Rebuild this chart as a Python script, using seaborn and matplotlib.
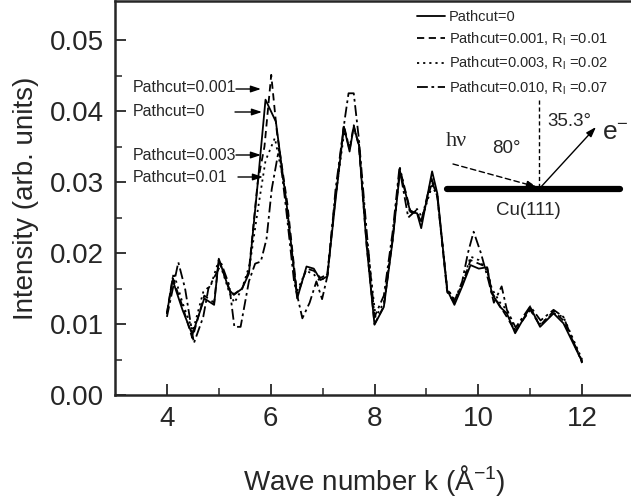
import numpy as np
import pandas as pd
import matplotlib
matplotlib.use("Agg")
import matplotlib.pyplot as plt
import seaborn as sns
from matplotlib.lines import Line2D

# ---- data (intensity in units of 0.01) ----
k_p0 = [4.0, 4.11, 4.3, 4.49, 4.72, 4.91, 5.0, 5.2, 5.29, 5.45, 5.58, 5.75, 5.9, 6.1, 6.32,
        6.51, 6.69, 6.83, 6.96, 7.09, 7.25, 7.41, 7.52, 7.6, 7.7, 7.85, 8.0, 8.18, 8.35, 8.49,
        8.69, 8.82, 8.9, 9.11, 9.21, 9.4, 9.54, 9.69, 9.85, 10.01, 10.17, 10.26, 10.42, 10.55,
        10.71, 11.0, 11.19, 11.45, 11.64, 12.0]
i_p0 = [1.15, 1.62, 1.2, 0.85, 1.36, 1.27, 1.92, 1.48, 1.41, 1.50, 1.71, 2.98, 4.16, 3.85, 2.61,
        1.36, 1.81, 1.78, 1.62, 1.67, 2.75, 3.78, 3.43, 3.78, 3.52, 2.09, 0.99, 1.24, 2.18, 3.15,
        2.58, 2.56, 2.35, 3.15, 2.84, 1.48, 1.27, 1.53, 1.83, 1.78, 1.80, 1.43, 1.24, 1.15,
        0.87, 1.24, 0.96, 1.15, 1.01, 0.47]

k_p001 = [4.0, 4.11, 4.3, 4.49, 4.72, 4.91, 5.0, 5.2, 5.29, 5.45, 5.58, 5.75, 5.88, 6.01, 6.12,
          6.32, 6.51, 6.69, 6.83, 6.96, 7.09, 7.25, 7.41, 7.52, 7.6, 7.7, 7.85, 8.0, 8.18, 8.35,
          8.49, 8.69, 8.82, 8.9, 9.11, 9.21, 9.4, 9.54, 9.69, 9.85, 10.01, 10.17, 10.26, 10.42,
          10.55, 10.71, 11.0, 11.19, 11.45, 11.64, 12.0]
i_p001 = [1.15, 1.65, 1.25, 0.8, 1.4, 1.3, 1.9, 1.5, 1.42, 1.5, 1.75, 3.0, 3.5, 4.51, 3.7,
          2.7, 1.4, 1.78, 1.75, 1.65, 1.7, 2.8, 3.8, 3.45, 3.8, 3.5, 2.1, 1.0, 1.25, 2.2,
          3.18, 2.6, 2.55, 2.45, 3.0, 2.8, 1.45, 1.3, 1.55, 1.9, 1.85, 1.8, 1.45, 1.25,
          1.1, 0.9, 1.2, 0.98, 1.18, 1.05, 0.48]

k_p003 = [4.0, 4.13, 4.3, 4.5, 4.7, 4.85, 5.0, 5.2, 5.3, 5.45, 5.6, 5.75, 5.9, 6.08, 6.25,
          6.5, 6.68, 6.83, 6.96, 7.09, 7.25, 7.42, 7.52, 7.6, 7.7, 7.85, 8.02, 8.18, 8.35, 8.49,
          8.69, 8.82, 8.92, 9.11, 9.21, 9.4, 9.54, 9.69, 9.85, 10.01, 10.17, 10.26, 10.42, 10.55,
          10.71, 11.0, 11.19, 11.45, 11.64, 12.0]
i_p003 = [1.15, 1.72, 1.3, 0.9, 1.45, 1.55, 1.9, 1.45, 1.3, 1.5, 1.85, 2.6, 3.3, 3.62, 3.0,
          1.45, 1.75, 1.7, 1.6, 1.7, 2.8, 3.72, 3.5, 3.75, 3.55, 2.2, 1.1, 1.3, 2.2, 3.2,
          2.55, 2.62, 2.5, 2.95, 2.8, 1.5, 1.35, 1.55, 1.95, 1.9, 1.75, 1.5, 1.3, 1.2,
          0.92, 1.2, 1.0, 1.15, 1.1, 0.5]

k_p010 = [4.0, 4.22, 4.35, 4.52, 4.7, 4.8, 5.05, 5.2, 5.3, 5.42, 5.58, 5.7, 5.81, 5.92, 6.02,
          6.16, 6.3, 6.45, 6.61, 6.75, 6.88, 6.99, 7.1, 7.25, 7.43, 7.5, 7.6, 7.7, 7.85, 8.0,
          8.18, 8.35, 8.48, 8.65, 8.8, 8.9, 9.1, 9.21, 9.4, 9.54, 9.69, 9.8, 9.91, 10.05, 10.2,
          10.3, 10.45, 10.55, 10.72, 11.0, 11.2, 11.45, 11.64, 12.0]
i_p010 = [1.1, 1.87, 1.5, 0.73, 1.1, 1.5, 1.85, 1.55, 0.96, 0.96, 1.6, 1.85, 1.88, 2.2, 2.9,
          3.47, 2.6, 1.6, 1.08, 1.3, 1.6, 1.35, 1.7, 2.9, 3.9, 4.25, 4.25, 3.6, 2.3, 1.1,
          1.4, 2.3, 3.2, 2.5, 2.6, 2.45, 3.05, 2.8, 1.5, 1.32, 1.6, 2.0, 2.3, 2.0, 1.6,
          1.3, 1.53, 1.2, 0.95, 1.25, 1.05, 1.2, 1.1, 0.45]

labels = ["Pathcut=0",
          r"Pathcut=0.001, R$_\mathregular{l}$ =0.01",
          r"Pathcut=0.003, R$_\mathregular{l}$ =0.02",
          r"Pathcut=0.010, R$_\mathregular{l}$ =0.07"]
x_ticks = [4, 6, 8, 10, 12]
y_ticks = [0.00, 0.01, 0.02, 0.03, 0.04, 0.05]
ann_labels = ["Pathcut=0.001", "Pathcut=0", "Pathcut=0.003", "Pathcut=0.01"]

frames = []
for kk, ii, lab in [(k_p0, i_p0, labels[0]), (k_p001, i_p001, labels[1]),
                    (k_p003, i_p003, labels[2]), (k_p010, i_p010, labels[3])]:
    frames.append(pd.DataFrame({"k": kk, "I": np.array(ii) * 0.01, "series": lab}))
df = pd.concat(frames, ignore_index=True)

sns.set_style("ticks")
plt.rcParams["font.family"] = ["Liberation Sans", "DejaVu Sans"]
plt.rcParams["mathtext.fontset"] = "custom"
plt.rcParams["mathtext.rm"] = "Liberation Sans"

W, H = 631, 504
fig = plt.figure(figsize=(W / 100, H / 100), dpi=100)
ax = fig.add_axes([115 / W, 1 - 395 / H, (634 - 115) / W, (395 - 1) / H])

dashes = {labels[0]: "", labels[1]: (4, 2.5), labels[2]: (1.2, 2.2), labels[3]: (6, 2, 1.5, 2)}
sns.lineplot(data=df, x="k", y="I", hue="series", style="series", dashes=dashes,
             palette=["black"] * 4, sort=False, estimator=None, linewidth=1.3, ax=ax,
             legend=False)

ax.set_xlim(3, 13)
ax.set_ylim(0, 0.0555)
ax.set_xticks(x_ticks)
ax.set_xticks([5, 7, 9, 11], minor=True)
ax.set_yticks(y_ticks)
ax.set_yticklabels([f"{v:.2f}" for v in y_ticks])
ax.set_yticks(np.arange(0.005, 0.055, 0.01), minor=True)
ax.tick_params(which="major", direction="in", length=8, width=1.3, labelsize=20, pad=8)
ax.tick_params(which="minor", direction="in", length=5, width=1.1)
for s in ax.spines.values():
    s.set_linewidth(1.8)
ax.set_xlabel(r"Wave number k ($\mathregular{\AA^{-1}}$)", fontsize=20, labelpad=22)
ax.set_ylabel("Intensity (arb. units)", fontsize=20, labelpad=8)

# legend
handles = [Line2D([], [], color="black", lw=1.3, linestyle="-"),
           Line2D([], [], color="black", lw=1.3, dashes=(4, 2.5)),
           Line2D([], [], color="black", lw=1.3, dashes=(1.2, 2.2)),
           Line2D([], [], color="black", lw=1.3, dashes=(6, 2, 1.5, 2))]
fig.legend(handles, labels, loc="upper left", bbox_to_anchor=(414 / W, 1 - 7 / H),
           frameon=False, fontsize=10.5, handlelength=1.9, handletextpad=0.3,
           labelspacing=0.45, borderaxespad=0, borderpad=0.2)

def fxy(px, py):
    return (px / W, 1 - py / H)

# annotations with arrows
ann_pos = [(133, 87, 261, 89), (133, 112, 262, 112), (133, 156, 261, 155), (133, 177, 263, 177)]
ann_start = [236, 235, 236, 238]
for lab, (tx, ty, ax_, ay_), sx in zip(ann_labels, ann_pos, ann_start):
    fig.text(*fxy(tx, ty), lab, fontsize=11.5, va="center", ha="left")
    ax.annotate("", xy=fxy(ax_, ay_), xycoords="figure fraction",
                xytext=fxy(sx, ay_), textcoords="figure fraction",
                arrowprops=dict(arrowstyle="-|>,head_length=0.6,head_width=0.2",
                                color="black", lw=1.0, shrinkA=0, shrinkB=0))

# geometry inset
fig.add_artist(Line2D([447 / W, 620 / W], [1 - 189 / H, 1 - 189 / H], color="black",
                      lw=4.5, solid_capstyle="round", transform=fig.transFigure))
fig.add_artist(Line2D([539 / W, 539 / W], [1 - 100 / H, 1 - 189 / H], color="black",
                      lw=1.0, dashes=(3, 2), transform=fig.transFigure))
ax.annotate("", xy=fxy(537, 187), xycoords="figure fraction",
            xytext=fxy(453, 164), textcoords="figure fraction",
            arrowprops=dict(arrowstyle="-|>,head_length=0.6,head_width=0.2", color="black",
                            lw=1.0, linestyle=(0, (4, 2.5)), shrinkA=0, shrinkB=0))
ax.annotate("", xy=fxy(596, 127), xycoords="figure fraction",
            xytext=fxy(540, 188), textcoords="figure fraction",
            arrowprops=dict(arrowstyle="-|>,head_length=0.6,head_width=0.2", color="black",
                            lw=1.0, shrinkA=0, shrinkB=0))
fig.text(*fxy(446, 142), "hν", family="Liberation Serif", fontsize=16, va="center", ha="left")
fig.text(*fxy(506, 148), "80°", fontsize=13.5, va="center", ha="center")
fig.text(*fxy(547, 122), "35.3°", fontsize=13.5, va="center", ha="left")
fig.text(*fxy(602, 133), r"e$^\mathregular{-}$", fontsize=19, va="center", ha="left")
fig.text(*fxy(528, 210), "Cu(111)", fontsize=13.5, va="center", ha="center")

fig.savefig("out.png", dpi=100)
